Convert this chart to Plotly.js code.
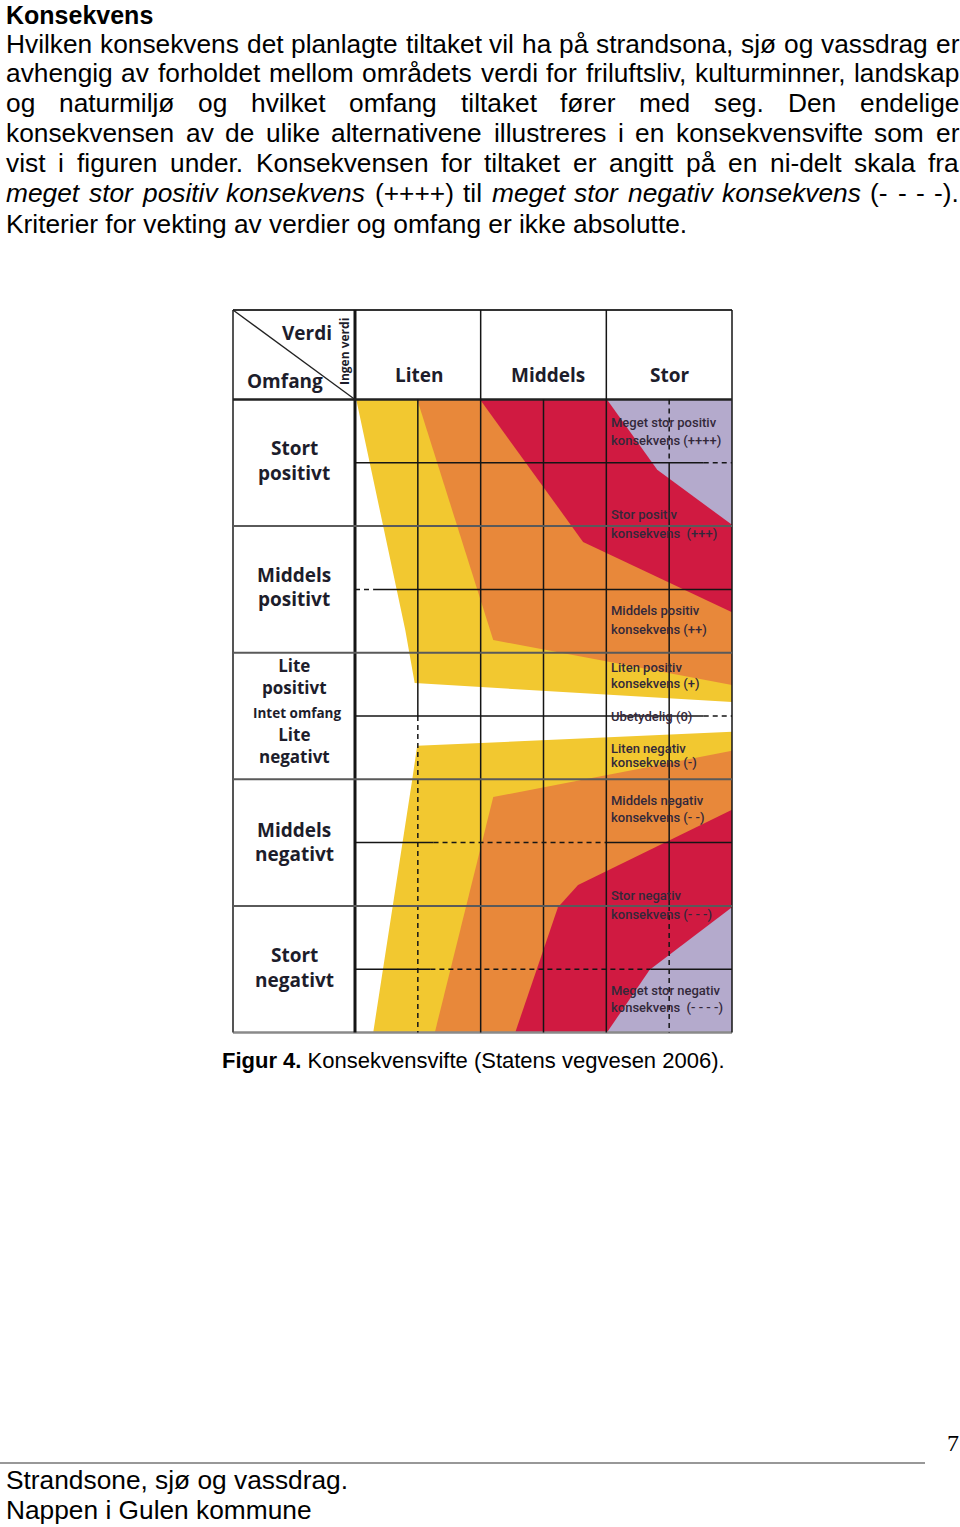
<!DOCTYPE html>
<html><head><meta charset="utf-8">
<script src="https://cdn.plot.ly/plotly-3.0.1.min.js"></script>
<style>html,body{margin:0;padding:0;background:#fff;}#chart{width:960px;height:1527px;}</style>
</head><body><div id="chart"></div>
<script>
// ---------- DATA ----------
const headingText = 'Konsekvens';
const paragraphLines = [
  'Hvilken konsekvens det planlagte tiltaket vil ha på strandsona, sjø og vassdrag er',
  'avhengig av forholdet mellom områdets verdi for friluftsliv, kulturminner, landskap',
  'og naturmiljø og hvilket omfang tiltaket fører med seg. Den endelige',
  'konsekvensen av de ulike alternativene illustreres i en konsekvensvifte som er',
  'vist i figuren under. Konsekvensen for tiltaket er angitt på en ni-delt skala fra',
  '<i>meget stor positiv konsekvens</i> (++++) til <i>meget stor negativ konsekvens</i> (- - - -).',
  'Kriterier for vekting av verdier og omfang er ikke absolutte.'
];
const captionBold = 'Figur 4.';
const captionText = 'Konsekvensvifte (Statens vegvesen 2006).';
const footerLines = ['Strandsone, sjø og vassdrag.', 'Nappen i Gulen kommune'];
const pageNumber = '7';

const verdiCats = ['Liten', 'Middels', 'Stor'];
const omfangCats = ['Stort<br>positivt', 'Middels<br>positivt', 'Lite<br>positivt', 'Lite<br>negativt', 'Middels<br>negativt', 'Stort<br>negativt'];
const zeroOmfang = 'Intet omfang';
const cornerTexts = ['Verdi', 'Omfang', 'Ingen verdi'];
const consequenceLines = [
  'Meget stor positiv', 'konsekvens (++++)',
  'Stor positiv', 'konsekvens  (+++)',
  'Middels positiv', 'konsekvens (++)',
  'Liten positiv', 'konsekvens (+)',
  'Ubetydelig (0)',
  'Liten negativ', 'konsekvens (-)',
  'Middels negativ', 'konsekvens (- -)',
  'Stor negativ', 'konsekvens (- - -)',
  'Meget stor negativ', 'konsekvens  (- - - -)'
];

// fan polygons (x = verdi units, y = omfang units)
const posYellowX = [0.02, 0.80, 0.95, 6, 6];
const posYellowY = [5, 1.36, 0.52, 0.22, 5];
const posOrangeX = [0.99, 2.20, 6, 6];
const posOrangeY = [5, 1.20, 0.49, 5];
const posRedX = [1.99, 3.63, 6, 6];
const posRedY = [5, 2.75, 1.64, 5];
const posLilacX = [4.01, 4.81, 6, 6];
const posLilacY = [5, 3.89, 3.02, 5];
const negYellowX = [0.99, 0.91, 0.29, 6, 6];
const negYellowY = [-0.47, -1.01, -5, -5, -0.25];
const negOrangeX = [2.20, 1.27, 6, 6];
const negOrangeY = [-1.28, -5, -5, -0.55];
const negRedX = [3.55, 3.23, 2.55, 6, 6];
const negRedY = [-2.67, -3.02, -5, -5, -1.48];
const negLilacX = [4.69, 4.01, 6, 6];
const negLilacY = [-4.01, -5, -5, -3.02];

// ---------- LAYOUT GEOMETRY ----------
const W = 960, H = 1527;
const UX = 62.833, UY = 63.3, OX = 355, OY = 716;
const XL = (233 - OX) / UX, XR = 6, YT = (OY - 310) / UY, YB = -5;
const C = {yellow: '#f2c830', orange: '#e8883a', red: '#d01a41', lilac: '#b4aacc'};
const TXT = '"Liberation Sans", Arial, sans-serif';
const FIG = '"Open Sans", sans-serif';

const traces = [];
function poly(xs, ys, col) {
  traces.push({type: 'scatter', x: xs, y: ys, mode: 'none', fill: 'toself', fillcolor: col, hoverinfo: 'skip', showlegend: false});
}
poly(posYellowX, posYellowY, C.yellow);
poly(posOrangeX, posOrangeY, C.orange);
poly(posRedX, posRedY, C.red);
poly(posLilacX, posLilacY, C.lilac);
poly(negYellowX, negYellowY, C.yellow);
poly(negOrangeX, negOrangeY, C.orange);
poly(negRedX, negRedY, C.red);
poly(negLilacX, negLilacY, C.lilac);

const shapes = [];
const DASH = '5px,4px';
function seg(x0, y0, x1, y1, w, c, d) {
  shapes.push({type: 'line', xref: 'x', yref: 'y', x0: x0, y0: y0, x1: x1, y1: y1, line: {width: w, color: c, dash: d || 'solid'}});
}
const K = '#151515', G = '#5a5a5a';
// outer border
seg(XL, YT, XR, YT, 2, '#333');
seg(XL, YB, XR, YB, 2.5, '#8a8a8a');
seg(XL, YT, XL, YB, 2, '#555');
seg(XR, YT, XR, YB, 1.5, K);
// header
seg(0, YT, 0, YB, 3, K);
seg(XL, 5, XR, 5, 2.5, '#222');
seg(XL, YT, 0, 5, 1.3, '#222');
// verticals
seg(1, 5, 1, 0, 1.5, K); seg(1, 0, 1, -5, 1.5, K, DASH);
seg(2, YT, 2, YB, 1.5, K);
seg(3, 5, 3, YB, 1.5, K);
seg(4, YT, 4, YB, 1.5, K);
seg(5, 5, 5, 4, 1.5, K, DASH); seg(5, 4, 5, -3, 1.5, K); seg(5, -3, 5, -5, 1.5, K, DASH);
// horizontals
seg(0, 4, 5.55, 4, 1.5, K); seg(5.55, 4, 6, 4, 1.5, K, DASH);
seg(XL, 3, XR, 3, 2, G);
seg(0, 2, 0.3, 2, 1.5, K, DASH); seg(0.3, 2, 6, 2, 1.5, K);
seg(XL, 1, XR, 1, 2, G);
seg(0, 0, 5.55, 0, 1.5, K); seg(5.55, 0, 6, 0, 1.5, K, DASH);
seg(XL, -1, XR, -1, 2, G);
seg(0, -2, 1.25, -2, 1.5, K); seg(1.25, -2, 4, -2, 1.5, K, DASH); seg(4, -2, 6, -2, 1.5, K);
seg(XL, -3, XR, -3, 2, G);
seg(0, -4, 1.2, -4, 1.5, K); seg(1.2, -4, 4.7, -4, 1.5, K, DASH); seg(4.7, -4, 6, -4, 1.5, K);
// footer rule
shapes.push({type: 'line', xref: 'paper', yref: 'paper', x0: 0, x1: 925 / W, y0: 1 - 1463 / H, y1: 1 - 1463 / H, line: {width: 1.2, color: '#333'}});

const ann = [];
function A(o) { ann.push(Object.assign({showarrow: false, borderpad: 0, xanchor: 'center', yanchor: 'middle'}, o)); }
const figColor = '#1d1d2b';
// corner
A({xref: 'x', yref: 'y', x: -0.76, y: 6.05, text: '<b>' + cornerTexts[0] + '</b>', font: {family: FIG, size: 19, color: figColor}});
A({xref: 'x', yref: 'y', x: -1.11, y: 5.29, text: '<b>' + cornerTexts[1] + '</b>', font: {family: FIG, size: 19, color: figColor}});
A({xref: 'x', yref: 'y', x: -0.175, y: 5.75, text: '<b>' + cornerTexts[2] + '</b>', textangle: -90, font: {family: FIG, size: 12, color: figColor}});
// header categories
const headX = [1.03, 3.07, 5.01];
verdiCats.forEach((t, i) => A({xref: 'x', yref: 'y', x: headX[i], y: 5.39, text: '<b>' + t + '</b>', font: {family: FIG, size: 19, color: figColor}}));
// row labels
const rowLineY = [[4.23, 3.84], [2.23, 1.85], null, null, [-1.80, -2.18], [-3.78, -4.17]];
const rowMidY = [0, 0, 0.62, -0.47, 0, 0];
omfangCats.forEach((t, i) => {
  if (i === 2 || i === 3) {
    A({xref: 'x', yref: 'y', x: -0.97, y: rowMidY[i], text: '<b>' + t.replace('<br>', '</b><br><b>') + '</b>', font: {family: FIG, size: 17, color: figColor}});
    return;
  }
  const parts = t.split('<br>');
  parts.forEach((p, j) => A({xref: 'x', yref: 'y', x: -0.97, y: rowLineY[i][j], text: '<b>' + p + '</b>', font: {family: FIG, size: 19, color: figColor}}));
});
A({xref: 'x', yref: 'y', x: -0.92, y: 0.04, text: '<b>' + zeroOmfang + '</b>', font: {family: FIG, size: 13.5, color: figColor}});
// consequence labels
const consY = [4.64, 4.36, 3.19, 2.89, 1.67, 1.36, 0.77, 0.51, 0, -0.52, -0.73, -1.33, -1.60, -2.84, -3.14, -4.34, -4.61];
consequenceLines.forEach((t, i) => A({xref: 'x', yref: 'y', x: 4.06, y: consY[i], xanchor: 'left', text: t.replace(/  /g, ' &nbsp;'), font: {family: 'Roboto, sans-serif', size: 13, color: '#33283a', weight: 500}}));

// ---------- TEXT (justified paragraph) ----------
const cv = document.createElement('canvas').getContext('2d');
const FS = 26.3;
function measure(t, it, b) { cv.font = (it ? 'italic ' : '') + (b ? 'bold ' : '') + FS + 'px "Liberation Sans"'; return cv.measureText(t).width; }
function tokens(line) {
  const out = []; let it = false;
  line.split(' ').forEach(w => {
    if (w.startsWith('<i>')) { it = true; w = w.slice(3); }
    let close = false;
    if (w.endsWith('</i>')) { close = true; w = w.slice(0, -4); }
    out.push({t: w, it: it});
    if (close) it = false;
  });
  return out;
}
const lineY = [44, 73, 103, 133, 163, 193, 224];
const LX0 = 5, LX1 = 958;
paragraphLines.forEach((line, li) => {
  const toks = tokens(line);
  const y = 1 - lineY[li] / H;
  if (li === paragraphLines.length - 1) {
    A({xref: 'paper', yref: 'paper', x: LX0 / W, y: y, xanchor: 'left', text: line, font: {family: TXT, size: FS, color: '#000'}});
    return;
  }
  const widths = toks.map(o => measure(o.t, o.it));
  const total = widths.reduce((a, b) => a + b, 0);
  const gap = (LX1 - LX0 - total) / (toks.length - 1);
  let cx = LX0;
  toks.forEach((o, i) => {
    A({xref: 'paper', yref: 'paper', x: cx / W, y: y, xanchor: 'left', text: o.it ? '<i>' + o.t + '</i>' : o.t, font: {family: TXT, size: FS, color: '#000'}});
    cx += widths[i] + gap;
  });
});
A({xref: 'paper', yref: 'paper', x: LX0 / W, y: 1, yanchor: 'top', xanchor: 'left', text: '<b>' + headingText + '</b>', font: {family: TXT, size: 25, color: '#000'}});
// caption
A({xref: 'paper', yref: 'paper', x: 473 / W, y: 1 - 1060 / H, text: '<b>' + captionBold + '</b> ' + captionText, font: {family: TXT, size: 22, color: '#000'}});
// footer
A({xref: 'paper', yref: 'paper', x: 953 / W, y: 1 - 1443 / H, text: pageNumber, font: {family: '"Liberation Serif", serif', size: 24, color: '#000'}});
footerLines.forEach((t, i) => A({xref: 'paper', yref: 'paper', x: LX0 / W, y: 1 - [1480, 1510][i] / H, xanchor: 'left', text: t, font: {family: TXT, size: FS, color: '#000'}}));

const layout = {
  width: W, height: H, autosize: false,
  margin: {l: 0, r: 0, t: 0, b: 0, pad: 0},
  paper_bgcolor: '#fff', plot_bgcolor: '#fff',
  showlegend: false,
  xaxis: {range: [-OX / UX, (W - OX) / UX], visible: false, fixedrange: true},
  yaxis: {range: [(OY - H) / UY, OY / UY], visible: false, fixedrange: true},
  shapes: shapes,
  annotations: ann
};
Plotly.newPlot('chart', traces, layout, {staticPlot: true, displayModeBar: false});
</script></body></html>
